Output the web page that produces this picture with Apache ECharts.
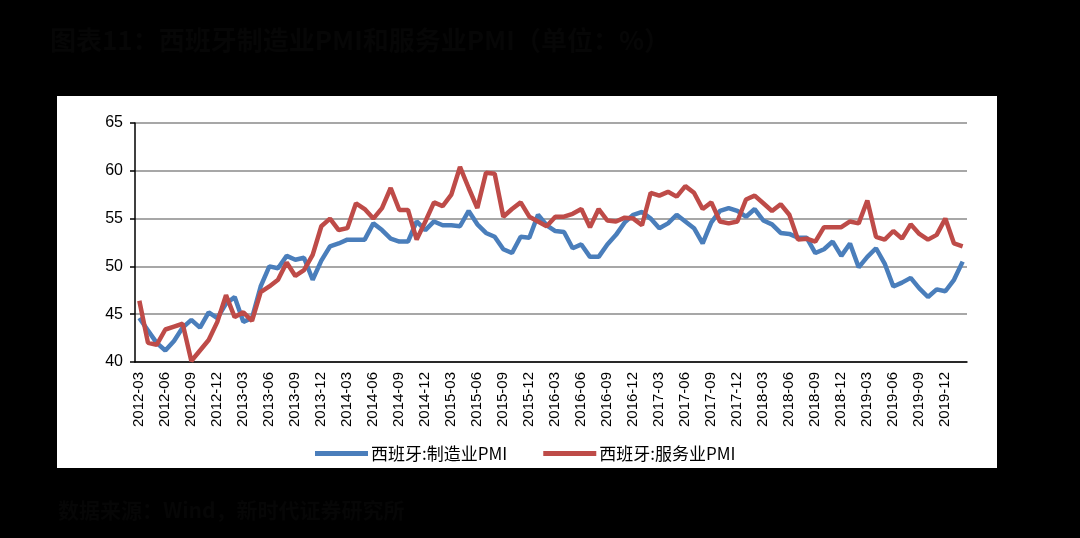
<!DOCTYPE html>
<html>
<head>
<meta charset="utf-8">
<title>西班牙制造业PMI和服务业PMI</title>
<script src="https://cdn.jsdelivr.net/npm/echarts@6/dist/echarts.min.js"></script>
<style>
  html, body { margin: 0; padding: 0; background: #000; }
  #chart { width: 1080px; height: 538px; }
</style>
</head>
<body>
<div id="chart"></div>
<script>
// months 2012-03 .. 2020-02
const months = [
  '2012-03', '2012-04', '2012-05', '2012-06', '2012-07', '2012-08', '2012-09', '2012-10', '2012-11', '2012-12',
  '2013-01', '2013-02', '2013-03', '2013-04', '2013-05', '2013-06', '2013-07', '2013-08', '2013-09', '2013-10', '2013-11', '2013-12',
  '2014-01', '2014-02', '2014-03', '2014-04', '2014-05', '2014-06', '2014-07', '2014-08', '2014-09', '2014-10', '2014-11', '2014-12',
  '2015-01', '2015-02', '2015-03', '2015-04', '2015-05', '2015-06', '2015-07', '2015-08', '2015-09', '2015-10', '2015-11', '2015-12',
  '2016-01', '2016-02', '2016-03', '2016-04', '2016-05', '2016-06', '2016-07', '2016-08', '2016-09', '2016-10', '2016-11', '2016-12',
  '2017-01', '2017-02', '2017-03', '2017-04', '2017-05', '2017-06', '2017-07', '2017-08', '2017-09', '2017-10', '2017-11', '2017-12',
  '2018-01', '2018-02', '2018-03', '2018-04', '2018-05', '2018-06', '2018-07', '2018-08', '2018-09', '2018-10', '2018-11', '2018-12',
  '2019-01', '2019-02', '2019-03', '2019-04', '2019-05', '2019-06', '2019-07', '2019-08', '2019-09', '2019-10', '2019-11', '2019-12',
  '2020-01', '2020-02'
]

// 西班牙:制造业PMI
const mfgPmi = [
  44.6, 43.3, 42.0, 41.2, 42.2, 43.6, 44.4, 43.6, 45.2, 44.6,
  46.1, 46.8, 44.2, 44.6, 47.9, 50.0, 49.8, 51.1, 50.7, 50.9, 48.6, 50.6,
  52.1, 52.4, 52.8, 52.8, 52.8, 54.5, 53.8, 52.9, 52.6, 52.6, 54.7, 53.8,
  54.7, 54.3, 54.3, 54.2, 55.8, 54.4, 53.5, 53.1, 51.8, 51.4, 53.1, 53.0,
  55.4, 54.3, 53.7, 53.6, 51.9, 52.3, 51.0, 51.0, 52.3, 53.3, 54.6, 55.4,
  55.7, 55.0, 54.0, 54.5, 55.4, 54.7, 54.0, 52.4, 54.6, 55.8, 56.1, 55.8,
  55.2, 56.0, 54.8, 54.4, 53.5, 53.4, 53.0, 53.0, 51.4, 51.8, 52.6, 51.1,
  52.4, 49.9, 51.0, 51.9, 50.3, 47.9, 48.3, 48.8, 47.7, 46.8, 47.6, 47.4,
  48.6, 50.5
]

// 西班牙:服务业PMI
const svcPmi = [
  46.4, 42.0, 41.8, 43.4, 43.7, 44.0, 40.1, 41.2, 42.3, 44.2,
  47.0, 44.7, 45.2, 44.3, 47.3, 47.9, 48.6, 50.4, 49.0, 49.6, 51.2, 54.2,
  55.0, 53.8, 54.0, 56.6, 56.0, 55.0, 56.1, 58.2, 55.9, 55.9, 52.8, 54.7,
  56.7, 56.3, 57.5, 60.4, 58.2, 56.1, 59.8, 59.7, 55.2, 56.0, 56.7, 55.2,
  54.7, 54.2, 55.2, 55.2, 55.5, 56.0, 54.1, 56.0, 54.8, 54.7, 55.1, 55.0,
  54.3, 57.7, 57.4, 57.8, 57.3, 58.4, 57.7, 56.0, 56.7, 54.7, 54.5, 54.7,
  57.0, 57.4, 56.6, 55.8, 56.5, 55.4, 52.8, 52.9, 52.6, 54.1, 54.1, 54.1,
  54.7, 54.5, 56.9, 53.1, 52.8, 53.7, 52.9, 54.4, 53.4, 52.8, 53.3, 55.0,
  52.4, 52.1
]

const yTicks = [40, 45, 50, 55, 60, 65]

const chart = echarts.init(document.getElementById('chart'))
chart.setOption({
  backgroundColor: '#000',
  animation: false,
  textStyle: { fontFamily: 'Liberation Sans, Noto Sans CJK SC, sans-serif' },
  graphic: [
    {
      type: 'rect',
      z: -10,
      shape: { x: 57, y: 96, width: 940, height: 372 },
      style: { fill: '#fff' }
    },
    {
      type: 'text',
      left: 50,
      top: 27,
      style: {
        text: '图表11：西班牙制造业PMI和服务业PMI（单位：%）',
        fill: '#060606',
        font: 'bold 26px "Noto Sans CJK SC", sans-serif'
      }
    },
    {
      type: 'text',
      left: 58,
      top: 500,
      style: {
        text: '数据来源：Wind，新时代证券研究所',
        fill: '#060606',
        font: 'bold 21px "Noto Sans CJK SC", sans-serif'
      }
    }
  ],
  color: ['#4A7EBB', '#BE4B48'],
  legend: {
    left: 310,
    top: 440,
    icon: 'rect',
    itemWidth: 53,
    itemHeight: 5,
    itemGap: 36,
    textStyle: {
      color: '#000',
      fontSize: 17,
      fontFamily: 'Noto Sans CJK SC, sans-serif',
      padding: [0, 0, 0, -2]
    },
    data: ['西班牙:制造业PMI', '西班牙:服务业PMI']
  },
  grid: {
    left: 135,
    right: 113,
    top: 123,
    bottom: 176
  },
  xAxis: {
    type: 'category',
    data: months,
    boundaryGap: true,
    axisLine: { lineStyle: { color: '#000', width: 1.5 } },
    axisTick: {
      inside: true,
      length: 5,
      interval: 2,
      lineStyle: { color: '#000', width: 1.5 }
    },
    axisLabel: {
      interval: 2,
      rotate: 90,
      color: '#000',
      fontSize: 15,
      margin: 10
    }
  },
  yAxis: {
    type: 'value',
    min: yTicks[0],
    max: yTicks[yTicks.length - 1],
    interval: 5,
    axisLine: { show: true, lineStyle: { color: '#000', width: 1.5 } },
    axisTick: { show: true, length: 5, lineStyle: { color: '#000', width: 1.5 } },
    axisLabel: { color: '#000', fontSize: 16, margin: 12 },
    splitLine: { lineStyle: { color: '#8a8a8a', width: 1.5 } }
  },
  series: [
    {
      name: '西班牙:制造业PMI',
      type: 'line',
      data: mfgPmi,
      symbol: 'none',
      lineStyle: { width: 4.5 },
      z: 2
    },
    {
      name: '西班牙:服务业PMI',
      type: 'line',
      data: svcPmi,
      symbol: 'none',
      lineStyle: { width: 4.5 },
      z: 3
    }
  ]
})
</script>
</body>
</html>
